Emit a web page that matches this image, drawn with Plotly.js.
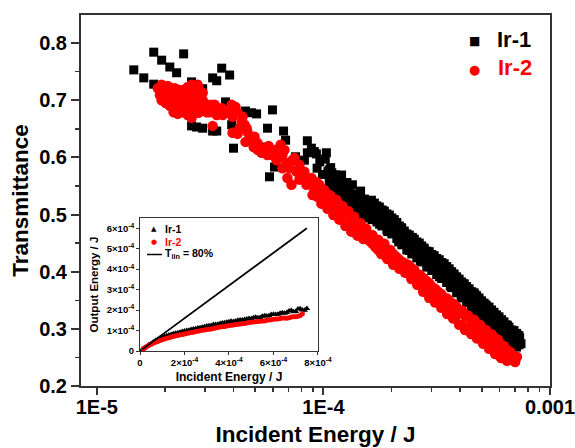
<!DOCTYPE html>
<html><head><meta charset="utf-8">
<script src="https://cdn.plot.ly/plotly-3.0.1.min.js"></script>
<style>html,body{margin:0;padding:0;background:#fff}</style></head>
<body><div id="chart" style="width:575px;height:448px"></div>
<script>
// log10(incident energy / J) and transmittance
const ir1LogE=[-4.837,-4.749,-4.793,-4.714,-4.678,-4.648,-4.617,-4.749,-4.582,-4.533,-4.449,-4.414,-4.489,-4.471,-4.432,-4.397,-4.344,-4.317,-4.295,-4.225,-4.582,-4.560,-4.533,-4.489,-4.471,-4.397,-4.247,-4.176,-4.167,-4.071,-4.053,-4.071,-4.031,-3.987,-4.238,-4.216,-4.123,-4.405,-4.269,-4.106,-4.084,
-4.040,-4.028,-4.016,-4.004,-3.992,-3.980,-3.968,-3.956,-3.944,-3.932,-3.920,-3.908,-3.896,-3.884,-3.872,-3.860,-3.848,-3.836,-3.824,-3.812,-3.800,-3.788,-3.776,-3.764,-3.752,-3.740,-3.728,-3.716,-3.704,-3.692,-3.680,-3.668,-3.656,-3.644,-3.632,-3.620,-3.608,-3.596,-3.584,-3.572,-3.560,-3.548,-3.536,-3.524,-3.512,-3.500,-3.488,-3.476,-3.464,-3.452,-3.440,-3.428,-3.416,-3.404,-3.392,-3.380,-3.368,-3.356,-3.344,-3.332,-3.320,-3.308,-3.296,-3.284,-3.272,-3.260,-3.248,-3.236,-3.224,-3.212,-3.200,-3.188,-3.176,-3.164,-3.152,-3.146,-3.140,-3.134,-3.128,
-3.974,-3.952,-3.930,-3.908,-3.886,-3.864,-3.842,-3.819,-3.797,-3.775,-3.753,-3.731,-3.709,-3.687,-3.665,-3.643,-3.621,-3.599,-3.577,-3.555,-3.533,-3.511,-3.489,-3.467,-3.445,-3.423,-3.401,-3.379,-3.357,-3.335,-3.313,-3.291,-3.269,-3.247,-3.225,-3.203,-3.181,-3.159,-3.137,
-3.974,-3.952,-3.930,-3.908,-3.886,-3.864,-3.842,-3.819,-3.797,-3.775,-3.753,-3.731,-3.709,-3.687,-3.665,-3.643,-3.621,-3.599,-3.577,-3.555,-3.533,-3.511,-3.489,-3.467,-3.445,-3.423,-3.401,-3.379,-3.357,-3.335,-3.313,-3.291,-3.269,-3.247,-3.225,-3.203,-3.181,-3.159,-3.137,
-3.974,-3.952,-3.930,-3.908,-3.886,-3.864,-3.842,-3.819,-3.797,-3.775,-3.753,-3.731,-3.709,-3.687,-3.665,-3.643,-3.621,-3.599,-3.577,-3.555,-3.533,-3.511,-3.489,-3.467,-3.445,-3.423,-3.401,-3.379,-3.357,-3.335,-3.313,-3.291,-3.269,-3.247,-3.225,-3.203,-3.181,-3.159,-3.137,
-3.963,-3.941,-3.919,-3.897,-3.875,-3.853,-3.831,-3.808,-3.786,-3.764,-3.742,-3.720,-3.698,-3.676,-3.654,-3.632,-3.610,-3.588,-3.566,-3.544,-3.522,-3.500,-3.478,-3.456,-3.434,-3.412,-3.390,-3.368,-3.346,-3.324,-3.302,-3.280,-3.258,-3.236,-3.214,-3.192,-3.170,-3.148,
-3.963,-3.941,-3.919,-3.897,-3.875,-3.853,-3.831,-3.808,-3.786,-3.764,-3.742,-3.720,-3.698,-3.676,-3.654,-3.632,-3.610,-3.588,-3.566,-3.544,-3.522,-3.500,-3.478,-3.456,-3.434,-3.412,-3.390,-3.368,-3.346,-3.324,-3.302,-3.280,-3.258,-3.236,-3.214,-3.192,-3.170,-3.148];
const ir1T=[.753,.784,.739,.770,.758,.748,.781,.728,.732,.720,.756,.744,.739,.734,.697,.688,.681,.678,.676,.683,.655,.653,.651,.646,.646,.616,.651,.646,.630,.629,.616,.608,.606,.608,.566,.583,.601,.657,.618,.578,.595,
.610,.581,.592,.570,.597,.575,.582,.556,.569,.544,.569,.545,.556,.529,.552,.535,.518,.541,.514,.524,.498,.525,.502,.511,.483,.507,.490,.470,.492,.469,.479,.452,.477,.457,.464,.437,.460,.437,.445,.419,.441,.426,.409,.429,.405,.415,.391,.412,.392,.399,.375,.395,.374,.381,.358,.377,.360,.365,.342,.360,.341,.347,.326,.342,.326,.331,.309,.324,.306,.313,.294,.306,.291,.296,.278,.290,.275,.284,.274,
.578,.569,.561,.552,.541,.534,.531,.527,.524,.520,.513,.506,.499,.491,.480,.471,.464,.457,.450,.441,.435,.428,.421,.414,.405,.396,.387,.379,.370,.363,.354,.345,.338,.329,.321,.312,.303,.297,.288,
.555,.546,.538,.529,.518,.511,.508,.504,.501,.497,.490,.483,.476,.468,.457,.448,.441,.434,.427,.418,.412,.405,.398,.391,.382,.373,.364,.356,.347,.340,.331,.322,.315,.306,.298,.289,.280,.274,.272,
.566,.557,.549,.540,.529,.522,.519,.515,.512,.508,.501,.494,.487,.479,.468,.459,.452,.445,.438,.429,.423,.416,.409,.402,.393,.384,.375,.367,.358,.351,.342,.333,.326,.317,.309,.300,.291,.285,.278,
.573,.564,.556,.547,.536,.529,.526,.522,.519,.515,.508,.501,.494,.486,.475,.466,.459,.452,.445,.436,.430,.423,.416,.409,.400,.391,.382,.374,.365,.358,.349,.340,.333,.324,.316,.307,.298,.292,
.545,.536,.528,.519,.508,.501,.498,.494,.491,.487,.480,.473,.466,.458,.447,.438,.431,.424,.417,.408,.402,.395,.388,.381,.372,.363,.354,.346,.337,.330,.321,.312,.305,.296,.288,.279,.272,.268];
const ir2LogE=[-4.731,-4.722,-4.714,-4.700,-4.687,-4.678,-4.670,-4.656,-4.652,-4.643,-4.634,-4.626,-4.617,-4.608,-4.599,-4.590,-4.582,-4.573,-4.564,-4.555,-4.546,-4.661,-4.643,-4.626,-4.612,-4.599,-4.590,-4.582,-4.568,-4.555,-4.546,-4.533,-4.524,-4.687,-4.700,-4.652,-4.634,-4.608,-4.577,-4.546,
-4.709,-4.692,-4.674,-4.661,-4.648,-4.630,-4.617,-4.604,-4.590,-4.577,-4.564,-4.551,-4.674,-4.656,-4.639,-4.621,-4.604,-4.586,-4.568,-4.551,-4.533,-4.511,-4.714,-4.696,-4.678,-4.661,-4.643,-4.564,-4.533,-4.586,
-4.480,-4.502,-4.471,-4.445,-4.405,-4.388,-4.401,-4.357,-4.489,-4.401,-4.370,-4.348,-4.335,-4.304,-4.344,-4.308,-4.273,-4.242,-4.189,-4.225,-4.194,-4.163,-4.128,-4.181,-4.159,-4.141,-4.119,-4.093,-4.062,-4.031,-4.048,
-4.379,-4.361,-4.339,-4.322,-4.291,-4.291,-4.260,-4.247,-4.216,-4.207,-4.181,-4.172,-4.150,-4.137,-4.106,-4.106,-4.084,-4.075,-4.053,-4.040,-4.018,-4.027,-4.449,-4.423,-4.379,-4.515,-4.493,-4.458,
-4.009,-3.996,-3.982,-3.969,-3.956,-3.943,-3.930,-3.916,-3.903,-3.890,-3.877,-3.864,-3.850,-3.837,-3.824,-3.811,-3.797,-3.784,-3.771,-3.758,-3.745,-3.731,-3.718,-3.705,-3.692,-3.679,-3.665,-3.652,-3.639,-3.626,-3.612,-3.599,-3.586,-3.573,-3.560,-3.546,-3.533,-3.520,-3.507,-3.494,-3.480,-3.467,-3.454,-3.441,-3.427,-3.414,-3.401,-3.388,-3.375,-3.361,-3.348,-3.335,-3.322,-3.309,-3.295,-3.282,-3.269,-3.256,-3.242,-3.229,-3.216,-3.203,-3.190,-3.176,-3.163,-3.154,-3.146,
-3.996,-3.969,-3.943,-3.916,-3.890,-3.864,-3.837,-3.811,-3.784,-3.758,-3.731,-3.705,-3.679,-3.652,-3.626,-3.599,-3.573,-3.546,-3.520,-3.494,-3.467,-3.441,-3.414,-3.388,-3.361,-3.335,-3.309,-3.282,-3.256,-3.229,-3.203,-3.176,-3.150,
-4.009,-3.982,-3.956,-3.930,-3.903,-3.877,-3.850,-3.824,-3.797,-3.771,-3.745,-3.718,-3.692,-3.665,-3.639,-3.612,-3.586,-3.560,-3.533,-3.507,-3.480,-3.454,-3.427,-3.401,-3.375,-3.348,-3.322,-3.295,-3.269,-3.242,-3.216,-3.190,-4.582];
const ir2T=[.721,.709,.727,.718,.725,.706,.714,.721,.695,.709,.718,.700,.686,.711,.723,.716,.727,.706,.718,.727,.711,.704,.688,.679,.695,.674,.700,.690,.683,.695,.683,.700,.686,.700,.706,.686,.695,.683,.713,.700,
.713,.713,.721,.713,.704,.711,.718,.704,.709,.700,.709,.720,.695,.688,.683,.692,.692,.679,.692,.678,.690,.692,.700,.695,.690,.679,.676,.700,.713,.720,
.692,.679,.674,.674,.692,.688,.671,.671,.655,.643,.651,.657,.644,.636,.627,.618,.608,.620,.622,.604,.601,.590,.599,.581,.564,.552,.575,.566,.555,.557,.534,
.641,.662,.651,.630,.625,.613,.616,.604,.613,.595,.604,.613,.581,.595,.587,.561,.575,.552,.564,.543,.552,.531,.686,.679,.678,.679,.692,.679,
.538,.524,.536,.513,.526,.505,.517,.498,.503,.484,.496,.473,.484,.466,.477,.459,.464,.449,.456,.438,.447,.429,.436,.422,.431,.415,.421,.407,.414,.398,.407,.389,.396,.379,.389,.370,.380,.358,.370,.353,.361,.342,.353,.333,.344,.323,.333,.307,.323,.302,.316,.297,.309,.288,.298,.279,.288,.270,.283,.260,.272,.255,.263,.246,.249,.242,.251,
.543,.533,.526,.515,.506,.496,.485,.475,.464,.456,.449,.438,.426,.417,.412,.403,.394,.384,.373,.365,.354,.347,.339,.332,.323,.316,.307,.298,.290,.281,.270,.260,.249,
.519,.510,.499,.491,.480,.470,.463,.457,.454,.443,.431,.422,.412,.405,.398,.387,.377,.365,.354,.346,.337,.326,.318,.307,.298,.291,.283,.274,.265,.256,.249,.244,.669];
// inset: energies in units of 1e-4 J
const insetIr1In=[.1,.2,.3,.4,.5,.6,.7,.8,.9,1,1.1,1.2,1.3,1.4,1.5,1.6,1.7,1.8,1.9,2,2.2,2.4,2.6,2.8,3,3.2,3.4,3.6,3.8,4,4.2,4.4,4.6,4.8,5,5.2,5.4,5.6,5.8,6,6.2,6.4,6.6,6.8,7,7.2,7.4,7.5,2.1,2.3,2.5,2.7,2.9,3.1,3.3,3.5,3.7,3.9,4.1,4.3,4.5,4.7,4.9,5.1,5.3,5.5,5.7,5.9,6.1,6.3,6.5,6.7,6.9,7.1,7.3];
const insetIr1Out=[.08,.15,.22,.3,.37,.44,.51,.56,.62,.67,.71,.75,.78,.81,.84,.87,.89,.92,.95,.98,1.02,1.07,1.12,1.16,1.22,1.25,1.3,1.34,1.38,1.43,1.44,1.5,1.51,1.57,1.58,1.65,1.64,1.72,1.72,1.8,1.8,1.87,1.88,1.98,1.93,2.07,1.99,2.08,1,1.05,1.09,1.14,1.19,1.23,1.29,1.31,1.37,1.4,1.45,1.47,1.52,1.54,1.59,1.62,1.63,1.7,1.71,1.78,1.79,1.85,1.85,1.95,1.92,2.05,2];
const insetIr2In=[.15,.2,.3,.4,.5,.6,.7,.8,.9,1,1.1,1.2,1.3,1.4,1.5,1.6,1.7,1.8,1.9,2,2.2,2.4,2.6,2.8,3,3.2,3.4,3.6,3.8,4,4.2,4.4,4.6,4.8,5,5.2,5.4,5.6,5.8,6,6.2,6.4,6.6,6.8,7,7.2,7.3,2.1,2.3,2.5,2.7,2.9,3.1,3.3,3.5,3.7,3.9,4.1,4.3,4.5,4.7,4.9,5.1,5.3,5.5,5.7,5.9,6.1,6.3,6.5,6.7,6.9,7.1];
const insetIr2Out=[.11,.15,.22,.28,.33,.38,.43,.47,.51,.55,.59,.62,.65,.68,.71,.74,.76,.79,.81,.83,.88,.92,.97,1.01,1.05,1.08,1.12,1.17,1.2,1.25,1.27,1.31,1.33,1.37,1.41,1.43,1.46,1.47,1.52,1.55,1.57,1.61,1.6,1.66,1.68,1.73,1.82,.86,.9,.95,.99,1.03,1.06,1.1,1.15,1.18,1.22,1.26,1.29,1.32,1.35,1.39,1.42,1.44,1.47,1.5,1.53,1.56,1.59,1.61,1.63,1.67,1.7];
const linIn=[.1,7.5];
const linOut=[.08,6];
const yTicks=[.2,.3,.4,.5,.6,.7,.8];
const yMinor=[.25,.35,.45,.55,.65,.75];
const xTicks=[1e-5,1e-4,1e-3];
const xLabels=['1E-5','1E-4','0.001'];
const xMinor=[2e-5,3e-5,4e-5,5e-5,6e-5,7e-5,8e-5,9e-5,2e-4,3e-4,4e-4,5e-4,6e-4,7e-4,8e-4,9e-4];
const inXTicks=[0,2e-4,4e-4,6e-4,8e-4];
const inXLabels=['0','2×10<sup>-4</sup>','4×10<sup>-4</sup>','6×10<sup>-4</sup>','8×10<sup>-4</sup>'];
const inYTicks=[0,1e-4,2e-4,3e-4,4e-4,5e-4,6e-4];
const inYLabels=['0','1×10<sup>-4</sup>','2×10<sup>-4</sup>','3×10<sup>-4</sup>','4×10<sup>-4</sup>','5×10<sup>-4</sup>','6×10<sup>-4</sup>'];

const F='"Liberation Sans",Arial,sans-serif';
const e4=a=>a.map(v=>v*1e-4);
const traces=[
 {x:ir1LogE.map(v=>10**v),y:ir1T,name:'Ir-1',mode:'markers',type:'scatter',showlegend:false,
  marker:{symbol:'square',size:9,color:'#000',line:{width:0}}},
 {x:ir2LogE.map(v=>10**v),y:ir2T,name:'Ir-2',mode:'markers',type:'scatter',showlegend:false,
  marker:{symbol:'circle',size:10.5,color:'#ff0000',line:{width:0}}},
 {x:e4(insetIr1In),y:e4(insetIr1Out),name:'Ir-1',xaxis:'x2',yaxis:'y2',mode:'markers',type:'scatter',showlegend:false,
  marker:{symbol:'triangle-up',size:6,color:'#000'}},
 {x:e4(insetIr2In),y:e4(insetIr2Out),name:'Ir-2',xaxis:'x2',yaxis:'y2',mode:'markers',type:'scatter',showlegend:false,
  marker:{symbol:'circle',size:5,color:'#ff0000'}},
 {x:e4(linIn),y:e4(linOut),name:'Tlin = 80%',xaxis:'x2',yaxis:'y2',mode:'lines',type:'scatter',showlegend:false,
  line:{color:'#000',width:1.8}}
];
const px=x=>({xref:'paper',x:(x-81)/469});
const py=y=>({yref:'paper',y:(386-y)/371});
const note=(x,y,text,size,color,anchor,fam)=>({...px(x),...py(y),text,showarrow:false,xanchor:anchor,yanchor:'middle',
  font:{family:fam||F,size,color,weight:'bold'}});
const layout={
 width:575,height:448,paper_bgcolor:'#fff',plot_bgcolor:'#fff',
 margin:{l:81,r:25,t:15,b:62,pad:0},
 font:{family:F,color:'#000'},
 showlegend:false,
 xaxis:{type:'log',range:[-5.07,-3],domain:[0,1],tickmode:'array',tickvals:xTicks,ticktext:xLabels,
  ticks:'outside',ticklen:7,tickwidth:2,tickcolor:'#333',showline:true,linecolor:'#333',linewidth:2,mirror:true,showgrid:false,zeroline:false,
  tickfont:{family:F,size:20,color:'#000',weight:'bold'},ticklabelstandoff:-5,ticklabeloverflow:'allow',
  minor:{tickmode:'array',tickvals:xMinor,ticks:'outside',ticklen:4,tickwidth:1.5,tickcolor:'#333',showgrid:false},
  title:{text:'<b>Incident Energy / J</b>',font:{family:F,size:22.5,color:'#000'},standoff:9}},
 yaxis:{range:[.2,.849],domain:[0,1],tickmode:'array',tickvals:yTicks,ticktext:yTicks.map(v=>v.toFixed(1)),
  ticks:'outside',ticklen:8,tickwidth:2,tickcolor:'#333',showline:true,linecolor:'#333',linewidth:2,mirror:true,showgrid:false,zeroline:false,
  tickfont:{family:F,size:20,color:'#000',weight:'bold'},
  minor:{tickmode:'array',tickvals:yMinor,ticks:'outside',ticklen:4,tickwidth:1.5,tickcolor:'#333',showgrid:false},
  title:{text:'<b>Transmittance</b>',font:{family:F,size:22.5,color:'#000'},standoff:4}},
 xaxis2:{anchor:'y2',domain:[.1258,.5053],range:[0,8e-4],tickmode:'array',tickvals:inXTicks,ticktext:inXLabels,
  ticks:'outside',ticklen:3,tickwidth:1,tickcolor:'#333',showline:true,linecolor:'#333',linewidth:1,mirror:true,showgrid:false,zeroline:false,
  tickfont:{family:F,size:9.5,color:'#000',weight:'bold'},
  title:{text:'<b>Incident Energy / J</b>',font:{family:F,size:12,color:'#000'},standoff:5}},
 yaxis2:{anchor:'x2',domain:[.0943,.4528],range:[0,6.5e-4],tickmode:'array',tickvals:inYTicks,ticktext:inYLabels,
  ticks:'outside',ticklen:3,tickwidth:1,tickcolor:'#333',showline:true,linecolor:'#333',linewidth:1,mirror:true,showgrid:false,zeroline:false,
  tickfont:{family:F,size:9.5,color:'#000',weight:'bold'},
  title:{text:'<b>Output Energy / J</b>',font:{family:F,size:11.5,color:'#000'},standoff:5}},
 annotations:[
  note(474,41,'■',12,'#000','center','DejaVu Sans'),
  note(474,69,'●',13,'#ff0000','center','DejaVu Sans'),
  note(495,39,'Ir-1',22,'#000','left'),
  note(496,67,'Ir-2',22,'#ff0000','left'),
  note(154,229,'▲',7,'#000','center','DejaVu Sans'),
  note(154,242,'●',7,'#ff0000','center','DejaVu Sans'),
  note(163,229,'Ir-1',10.5,'#000','left'),
  note(163,242,'Ir-2',10.5,'#ff0000','left'),
  note(163,254,'T<sub>lin</sub> = 80%',10.5,'#000','left')
 ],
 shapes:[{type:'line',xref:'paper',yref:'paper',x0:(147-81)/469,x1:(162-81)/469,y0:(386-254.5)/371,y1:(386-254.5)/371,line:{color:'#000',width:1.5}}]
};
Plotly.newPlot('chart',traces,layout,{displayModeBar:false,staticPlot:true});
</script></body></html>
